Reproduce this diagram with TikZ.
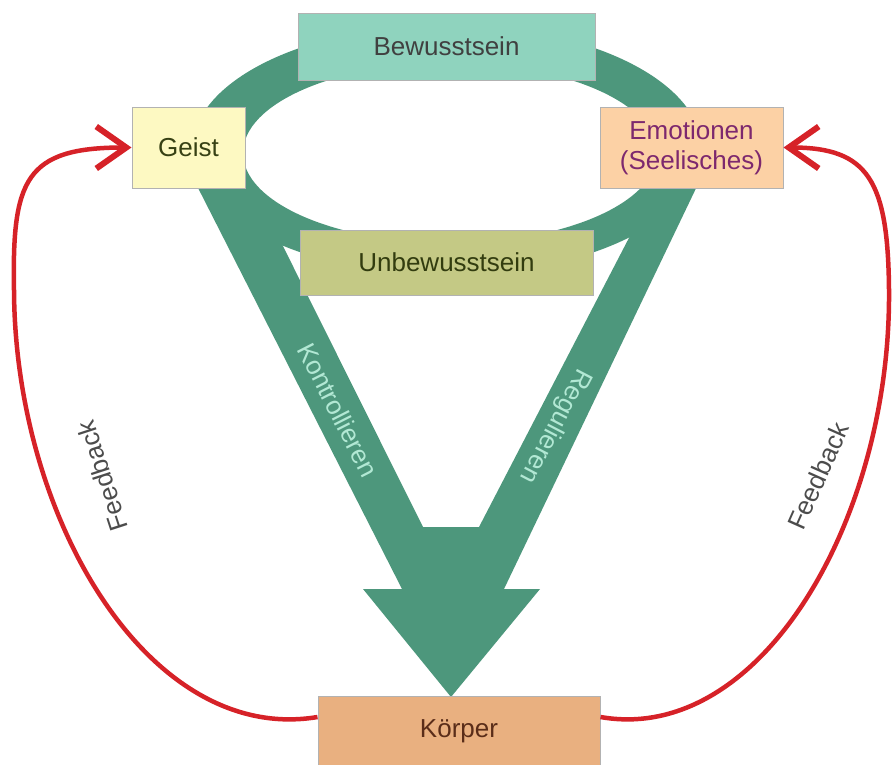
\documentclass[tikz,border=0pt]{standalone}
\usepackage{fontspec}
\setmainfont{Liberation Sans}
\usetikzlibrary{arrows.meta}

\definecolor{ringgreen}{RGB}{77,151,124}
\definecolor{bewusstfill}{RGB}{143,211,190}
\definecolor{geistfill}{RGB}{253,249,194}
\definecolor{emofill}{RGB}{252,209,165}
\definecolor{unbewusstfill}{RGB}{196,201,133}
\definecolor{koerperfill}{RGB}{233,176,128}
\definecolor{fbred}{RGB}{214,34,40}
\definecolor{armtextcol}{RGB}{178,232,212}

\tikzset{
  box/.style={draw=black!30, line width=1pt, inner sep=0pt, align=center,
    font=\fontsize{26}{30}\selectfont},
  feedback/.style={draw=fbred, line width=4.5pt,
    -{Straight Barb[length=30pt,width=42pt,line width=6pt]}},
  armlabel/.style={text=armtextcol, font=\fontsize{26}{30}\selectfont},
  fblabel/.style={text=black!70, font=\fontsize{26}{30}\selectfont},
}

\begin{document}
\begin{tikzpicture}[x=1pt,y=1pt,yscale=-1]
\useasboundingbox (0,0) rectangle (893,764);

%Shape: ring
\fill[ringgreen, even odd rule] (447,150) ellipse [x radius=255, y radius=125]
  (450,153) ellipse [x radius=207, y radius=90];
%Shape: V arrow
\fill[ringgreen] (194,180) -- (402,589) -- (363,589) -- (451,697) -- (540,589)
  -- (504,589) -- (700,180) -- (659,180) -- (479,527) -- (423,527) -- (250,180) -- cycle;

% Boxes
\node[box, fill=bewusstfill, text=black!75, minimum width=297, minimum height=67] (bewusst) at (446.5,46.5) {Bewusstsein};
\node[box, fill=geistfill, text={rgb,255:red,55;green,65;blue,20}, minimum width=113, minimum height=81] (geist) at (188.5,147.5) {Geist};
\node[box, fill=emofill, text={rgb,255:red,125;green,40;blue,110}, minimum width=183, minimum height=81] (emo) at (691.5,147.5) {Emotionen\\(Seelisches)};
\node[box, fill=unbewusstfill, text={rgb,255:red,50;green,60;blue,15}, minimum width=293, minimum height=65] (unbewusst) at (446.5,262.5) {Unbewusstsein};
\node[box, fill=koerperfill, text={rgb,255:red,90;green,45;blue,25}, minimum width=282, minimum height=70] (koerper) at (459,731) {Körper};

% Arm labels
\node[armlabel, rotate=-63] (kontr) at (338,410) {Kontrollieren};
\node[armlabel, rotate=-117.5] (regul) at (555,426) {Regulieren};

% Feedback loops
\draw[feedback] ([yshift=-14pt]koerper.west) .. controls (150,745) and (15,520) .. (14,290)
  .. controls (12,180) and (25,147.5) .. (geist.west);
\draw[feedback] ([yshift=-14pt]koerper.east) .. controls (760,745) and (891,520) .. (889,290)
  .. controls (888,180) and (868,147.5) .. (emo.east);

% Text Node
\node[fblabel, rotate=108] (fbleft) at (102,476) {Feedback};
% Text Node
\node[fblabel, rotate=66] (fbright) at (818,476) {Feedback};

\end{tikzpicture}
\end{document}
